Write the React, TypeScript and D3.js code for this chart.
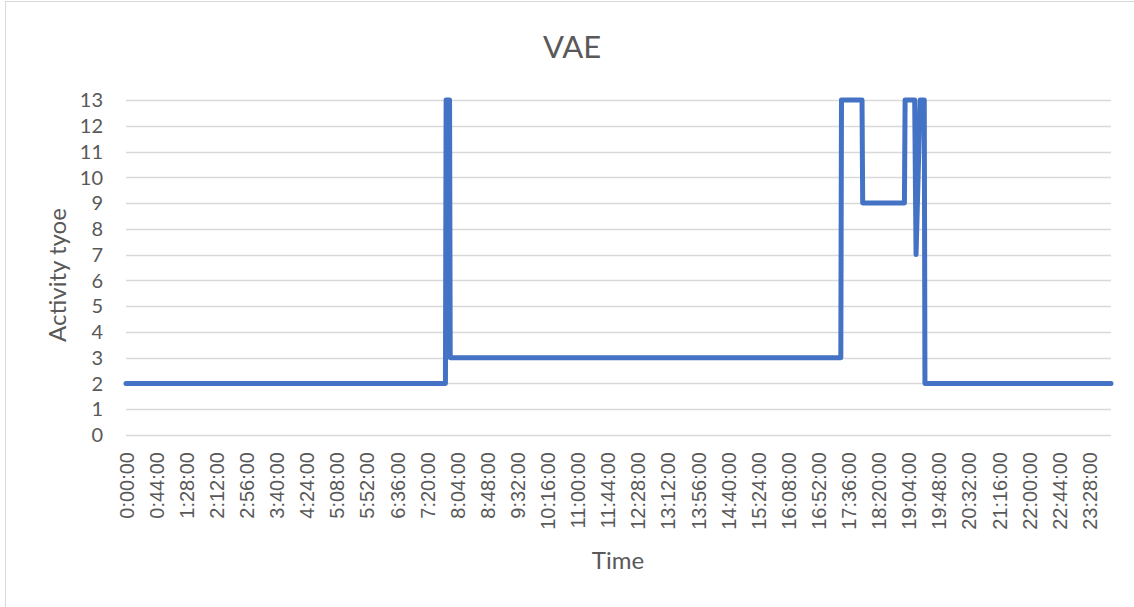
import React, { useEffect, useRef } from 'react';
import * as d3 from 'd3';

// points of the activity trace: minute of the day and activity type
const traceMinutes = [0, 467, 468, 473, 474, 1045, 1046, 1076, 1077, 1138, 1139, 1153, 1155, 1161, 1167, 1168, 1440];
const activityValues = [2, 2, 13, 13, 3, 3, 13, 13, 9, 9, 13, 13, 7, 13, 13, 2, 2];
const yTicks = [0, 1, 2, 3, 4, 5, 6, 7, 8, 9, 10, 11, 12, 13];
// category labels shown every 44 minutes
const tickMinutes = d3.range(0, 1440, 44);

const fmt = (m: number) => `${Math.floor(m / 60)}:${String(m % 60).padStart(2, '0')}:00`;

const App = () => {
    const ref = useRef<SVGSVGElement | null>(null);

    useEffect(() => {
        const svg = d3.select(ref.current);
        svg.selectAll('*').remove();

        const W = 1134, H = 607;
        const left = 126, right = 1111, top = 100, bottom = 435;

        const x = d3.scaleLinear().domain([0, 1440]).range([left, right]);
        const y = d3.scaleLinear().domain([0, 13]).range([bottom, top]);

        svg.append('rect')
            .attr('width', W).attr('height', H).attr('fill', 'white');
        svg.append('rect')
            .attr('x', 5.5).attr('y', 1.5)
            .attr('width', W + 10).attr('height', H + 10)
            .attr('fill', 'none').attr('stroke', '#d9d9d9').attr('stroke-width', 1);

        // gridlines
        svg.append('g').selectAll('line')
            .data(yTicks)
            .enter()
            .append('line')
            .attr('x1', left).attr('x2', right)
            .attr('y1', d => Math.round(y(d)) + 0.5).attr('y2', d => Math.round(y(d)) + 0.5)
            .attr('stroke', '#d9d9d9').attr('stroke-width', 1.3);

        // y labels
        svg.append('g').selectAll('text')
            .data(yTicks)
            .enter()
            .append('text')
            .attr('x', 103).attr('y', d => y(d))
            .attr('dy', '0.36em')
            .attr('text-anchor', 'end')
            .attr('fill', '#595959')
            .style('font-family', 'Lato, sans-serif')
            .style('font-size', '20px')
            .text(d => d);

        // x labels
        svg.append('g').selectAll('text')
            .data(tickMinutes)
            .enter()
            .append('text')
            .attr('transform', d => `translate(${x(d) + 0.5},452) rotate(-90)`)
            .attr('dy', '0.36em')
            .attr('text-anchor', 'end')
            .attr('fill', '#595959')
            .style('font-family', '"Liberation Sans", Arial, sans-serif')
            .style('font-size', '20px')
            .text(d => fmt(d));

        // line
        const pts = traceMinutes.map((m, i) => [m, activityValues[i]] as [number, number]);
        const line = d3.line<[number, number]>()
            .x(d => x(d[0]))
            .y(d => y(d[1]));
        svg.append('path')
            .datum(pts)
            .attr('d', line)
            .attr('fill', 'none')
            .attr('stroke', '#4472c4')
            .attr('stroke-width', 5)
            .attr('stroke-linejoin', 'round')
            .attr('stroke-linecap', 'round');

        // titles
        svg.append('text')
            .attr('x', 572).attr('y', 58)
            .attr('text-anchor', 'middle')
            .attr('fill', '#595959')
            .style('font-family', 'Lato, sans-serif')
            .style('font-size', '31px')
            .text('VAE');

        svg.append('text')
            .attr('x', 618).attr('y', 569)
            .attr('text-anchor', 'middle')
            .attr('fill', '#595959')
            .style('font-family', 'Lato, sans-serif')
            .style('font-size', '24px')
            .text('Time');

        svg.append('text')
            .attr('transform', 'translate(66,275) rotate(-90)')
            .attr('text-anchor', 'middle')
            .attr('fill', '#595959')
            .style('font-family', 'Lato, sans-serif')
            .style('font-size', '24px')
            .text('Activity tyoe');
    }, []);

    return (
        <div style={{ position: 'fixed', left: 0, top: 0 }}>
            <svg ref={ref} width={1134} height={607} style={{ display: 'block' }} />
        </div>
    );
};

export default App;
